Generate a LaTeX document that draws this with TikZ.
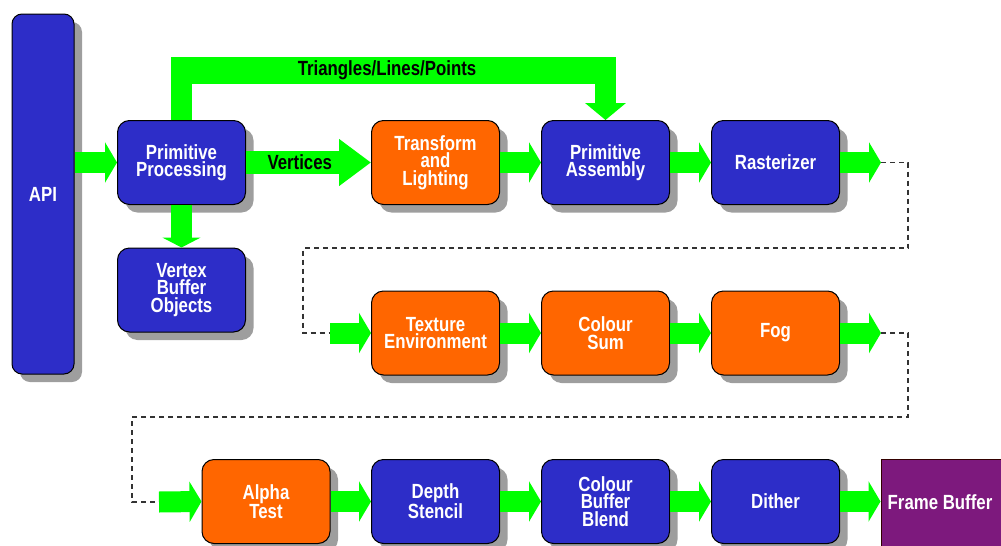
\documentclass[tikz,border=0pt]{standalone}
\usepackage{fontspec}
\newfontfamily\lbl{Liberation Sans}[FakeStretch=0.82]
\usetikzlibrary{arrows.meta,shadows}
\definecolor{boxblue}{RGB}{45,45,200}
\definecolor{boxorange}{RGB}{255,102,0}
\definecolor{boxpurple}{RGB}{125,25,125}
\definecolor{agreen}{RGB}{0,255,0}
\tikzset{
  box/.style={draw=black, line width=1pt, rounded corners=12pt,
    minimum width=128pt, minimum height=84pt, inner sep=2pt,
    text=white, align=center,
    font=\lbl\bfseries\fontsize{20.5}{17.5}\selectfont,
    drop shadow={shadow xshift=8pt, shadow yshift=-8pt, fill=black!38, opacity=1}},
  bluebox/.style={box, fill=boxblue},
  orangebox/.style={box, fill=boxorange},
  garrow/.style={draw=agreen, line width=21pt, line join=miter,
    -{Triangle[length=12pt,width=40pt]}},
  dashline/.style={draw=black!80, line width=1.2pt, dash pattern=on 5pt off 4pt},
  lab/.style={text=black, font=\lbl\bfseries\fontsize{20.5}{17.5}\selectfont}
}
\begin{document}
\begin{tikzpicture}[x=1pt,y=-1pt]
\useasboundingbox (0,0) rectangle (1001,546);
\clip (0,0) rectangle (1001,546);
% boxes
\node[bluebox, minimum width=62pt, minimum height=360pt, rounded corners=10pt] (api) at (43,194) {API};
\node[bluebox] (pp) at (181.5,162.5) {Primitive\\Processing};
\node[orangebox] (tl) at (435.5,162.5) {Transform\\and\\Lighting};
\node[bluebox] (pa) at (605.5,162.5) {Primitive\\Assembly};
\node[bluebox] (ras) at (775.5,162.5) {Rasterizer};
\node[bluebox] (vbo) at (181.5,290) {Vertex\\Buffer\\Objects};
\node[orangebox] (te) at (435.5,333) {Texture\\Environment};
\node[orangebox] (cs) at (605.5,333) {Colour\\Sum};
\node[orangebox] (fog) at (775.5,333) {Fog};
\node[orangebox] (at) at (266,501.5) {Alpha\\Test};
\node[bluebox] (ds) at (435.5,501.5) {Depth\\Stencil};
\node[bluebox] (cbb) at (605.5,501.5) {Colour\\Buffer\\Blend};
\node[bluebox] (dith) at (775.5,501.5) {Dither};
\node[draw=black!80!red, line width=1pt, fill=boxpurple, minimum width=130pt, minimum height=96pt,
      inner sep=0pt,
      label={[text=white, font=\lbl\bfseries\fontsize{20.5}{17.5}\selectfont, xshift=-6pt, yshift=5pt]center:Frame Buffer}]
      (fb) at (946,507) {};
% coordinates
\coordinate (t1) at (400,70.5);
\coordinate (r1) at (881,162.5);
\coordinate (r2) at (908,162.5);
\coordinate (r3) at (908,248);
\coordinate (r4) at (303,248);
\coordinate (r5) at (303,333);
\coordinate (r6) at (330,333);
\coordinate (f1) at (881,333);
\coordinate (f2) at (908,333);
\coordinate (f3) at (908,417);
\coordinate (f4) at (132,417);
\coordinate (f5) at (132,502);
\coordinate (f6) at (159,502);
% green connectors
\draw[garrow] (api.east |- pp.west) -- (pp.west);
\draw[garrow, line width=23pt, -{Triangle[length=32pt,width=45pt]}] (pp.east) -- node[lab, pos=0.43]{Vertices} (tl.west);
\fill[agreen] (171,57) rectangle (616,84);
\draw[garrow, -{Triangle[length=17pt,width=40pt]}] (pp.north) |- (t1) -| (pa.north);
\node[lab] (tlp) at (387,70) {Triangles/Lines/Points};
\draw[garrow, -{Triangle[length=10pt,width=38pt]}] (pp.south) -- (vbo.north);
\draw[garrow] (tl.east) -- (pa.west);
\draw[garrow] (pa.east) -- (ras.west);
\draw[garrow] (ras.east) -- (r1);
\draw[dashline] (r1) -- (r2) -- (r3) -- (r4) -- (r5) -- (r6);
\draw[garrow] (r6) -- (te.west);
\draw[garrow] (te.east) -- (cs.west);
\draw[garrow] (cs.east) -- (fog.west);
\draw[garrow] (fog.east) -- (f1);
\draw[dashline] (f1) -- (f2) -- (f3) -- (f4) -- (f5) -- (f6);
\draw[garrow] (f6) -- (at.west);
\draw[garrow] (at.east) -- (ds.west);
\draw[garrow] (ds.east) -- (cbb.west);
\draw[garrow] (cbb.east) -- (dith.west);
\draw[garrow] (dith.east) -- (dith.east -| fb.west);
\end{tikzpicture}
\end{document}
